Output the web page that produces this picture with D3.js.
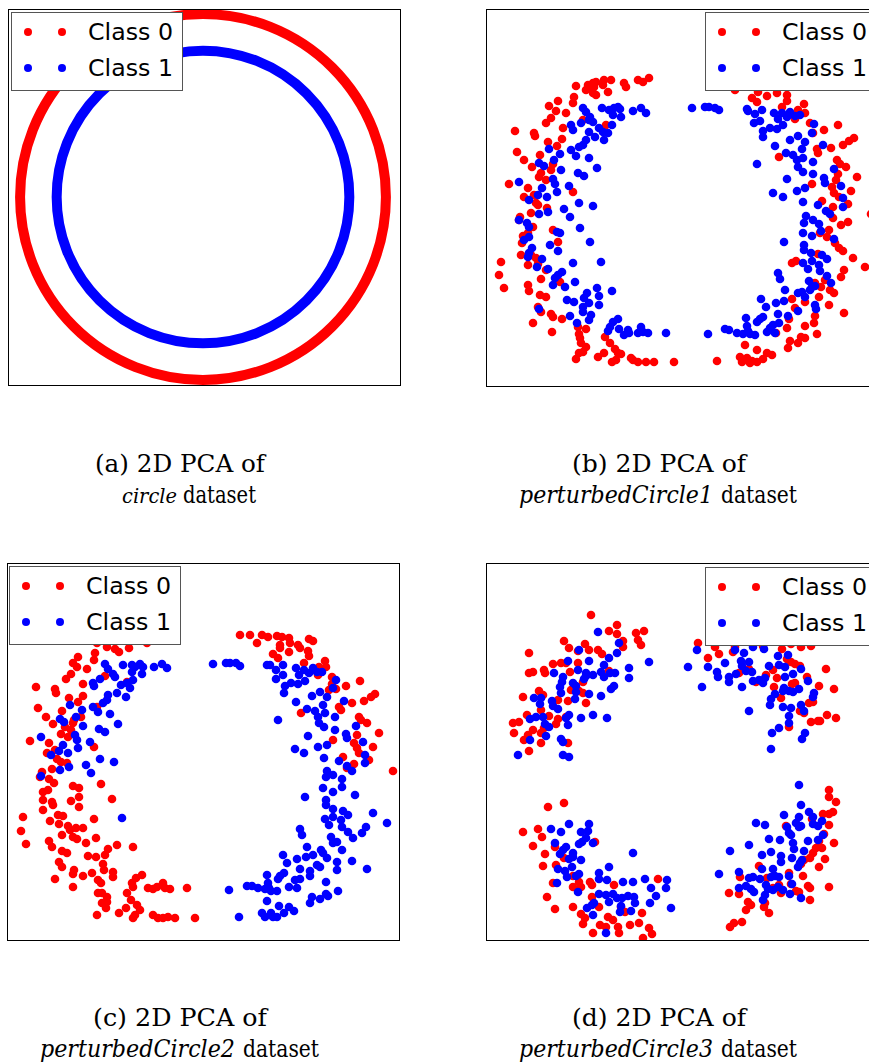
<!DOCTYPE html>
<html><head><meta charset="utf-8">
<script src="https://cdn.jsdelivr.net/npm/d3@7"></script>
<style>body{margin:0;background:#fff}</style>
</head><body><svg id="chart" width="869" height="1062"></svg>
<script>
// ---------------- DATA ----------------
const classLabels = ["Class 0", "Class 1"];
const classColors = ["#ff0000", "#0000ff"];
const captionHeads = ["(a) 2D PCA of", "(b) 2D PCA of", "(c) 2D PCA of", "(d) 2D PCA of"];
const datasetNames = ["circle", "perturbedCircle1", "perturbedCircle2", "perturbedCircle3"];
const captionTail = "dataset";

// (a) circle dataset: two concentric rings (radius per class), PCA units
const circleRadii = [1.0, 0.8];
const circleXDomain = [-1.066, 1.077];
const circleYDomain = [-1.027, 1.027];

// (b)-(d): PCA projections (units; y grows downward)
const pcXDomain = [0, 392];
const pcYDomain = [0, 377];

const b0 = [[90,77],[102,76],[107,74],[110,73],[118,71],[125,71],[117,76],[100,81],[107,84],[110,86],[122,83],[138,74],[140,78],[152,71],[157,73],[163,69],[103,79],[108,78],[88,88],[87,94],[72,92],[63,97],[70,102],[80,104],[65,109],[60,114],[77,119],[97,111],[120,116],[29,122],[48,124],[49,127],[62,133],[76,130],[71,137],[54,146],[31,143],[38,151],[46,158],[67,155],[65,161],[53,168],[55,164],[60,171],[23,175],[42,179],[38,188],[48,186],[50,194],[52,196],[87,183],[45,204],[61,199],[34,208],[33,211],[47,218],[37,227],[36,234],[42,224],[67,221],[72,233],[35,246],[45,246],[50,249],[15,253],[13,266],[18,279],[42,256],[55,270],[60,261],[52,255],[42,276],[43,282],[54,286],[60,288],[74,273],[52,298],[55,303],[65,305],[67,308],[76,310],[47,314],[66,323],[92,318],[93,325],[100,320],[94,329],[95,334],[100,338],[97,343],[93,344],[90,350],[112,348],[118,344],[124,334],[119,328],[129,340],[132,344],[135,345],[126,353],[130,351],[147,351],[152,353],[160,353],[168,353],[188,353],[145,349],
[249,81],[272,83],[291,84],[301,86],[281,87],[266,89],[271,93],[301,92],[296,98],[318,95],[312,101],[319,104],[309,110],[324,114],[327,124],[338,121],[352,116],[331,140],[332,144],[345,139],[357,136],[363,132],[368,129],[293,148],[351,151],[354,155],[360,158],[352,165],[371,168],[350,171],[346,178],[326,175],[348,184],[353,188],[365,182],[362,195],[336,192],[347,198],[347,209],[355,216],[362,213],[385,205],[334,224],[341,228],[343,221],[349,234],[353,239],[357,242],[367,249],[379,258],[306,254],[310,252],[332,245],[358,261],[355,268],[339,271],[329,274],[335,278],[344,281],[348,284],[333,288],[306,290],[319,293],[343,296],[309,299],[358,304],[329,307],[303,310],[328,314],[319,317],[301,319],[290,324],[331,325],[315,328],[319,329],[304,332],[312,334],[302,339],[259,336],[271,341],[281,344],[286,346],[254,348],[261,349],[266,352],[271,353],[277,350],[231,352],[256,353],[264,354]];

const b1 = [[97,99],[100,103],[104,108],[107,113],[103,111],[116,99],[123,101],[128,99],[132,98],[134,100],[135,108],[127,106],[147,102],[155,99],[160,104],[126,116],[113,119],[117,123],[122,124],[118,131],[109,128],[103,123],[100,131],[97,136],[93,138],[85,116],[87,121],[95,114],[85,141],[90,147],[103,149],[111,159],[63,140],[74,145],[68,151],[53,154],[58,157],[75,161],[92,164],[98,167],[67,170],[69,175],[83,177],[56,179],[52,186],[61,188],[71,183],[43,191],[33,173],[93,194],[107,197],[78,200],[84,208],[62,203],[53,205],[33,211],[41,214],[43,218],[43,228],[38,231],[94,219],[71,223],[74,224],[104,233],[64,236],[72,242],[46,239],[43,244],[42,248],[56,250],[51,258],[62,260],[87,254],[115,253],[76,263],[72,266],[69,269],[67,276],[79,278],[89,273],[111,279],[126,282],[101,284],[98,289],[113,287],[81,291],[88,293],[97,298],[103,294],[113,296],[97,303],[105,306],[84,307],[91,314],[103,311],[53,300],[127,313],[132,310],[124,318],[122,322],[133,320],[142,321],[138,326],[143,324],[155,318],[157,323],[162,324],[152,324],[180,324],
[206,99],[219,98],[223,98],[229,99],[233,101],[261,100],[262,102],[269,105],[276,101],[274,112],[268,114],[277,122],[277,128],[284,119],[291,120],[297,116],[288,104],[292,110],[296,104],[301,108],[304,103],[309,107],[314,106],[289,137],[304,131],[312,127],[319,133],[328,115],[326,124],[300,144],[307,146],[316,140],[317,149],[311,151],[312,158],[317,163],[327,153],[337,136],[271,155],[301,170],[327,165],[338,169],[339,174],[348,160],[355,177],[287,184],[297,188],[311,182],[319,179],[317,193],[332,196],[340,202],[344,205],[357,189],[357,198],[320,207],[318,214],[317,224],[327,211],[333,215],[335,222],[326,227],[348,230],[298,233],[318,236],[318,241],[325,244],[336,246],[341,250],[317,254],[322,260],[326,252],[333,256],[334,262],[341,267],[345,274],[292,264],[294,270],[323,272],[326,278],[329,277],[324,281],[299,281],[312,284],[316,283],[319,288],[275,290],[280,298],[290,294],[298,292],[329,296],[330,300],[312,302],[292,305],[302,307],[260,309],[274,310],[277,308],[271,313],[287,316],[293,314],[284,319],[281,323],[289,324],[261,317],[262,322],[239,320],[243,321],[251,324],[257,325],[264,325],[269,326],[222,325]];

const c0 = [[90,80],[100,84],[108,86],[112,89],[122,85],[140,80],[88,90],[87,97],[71,94],[66,100],[70,104],[80,106],[64,111],[59,116],[76,121],[98,113],[120,119],[29,124],[48,126],[49,130],[62,135],[76,133],[71,139],[31,145],[55,148],[39,154],[46,161],[67,157],[66,160],[58,164],[54,171],[74,154],[90,144],[23,178],[42,180],[64,167],[61,174],[40,190],[48,187],[50,196],[54,199],[87,184],[45,206],[35,209],[60,200],[33,214],[42,216],[47,220],[94,221],[66,223],[72,225],[36,229],[41,227],[36,237],[45,239],[64,238],[72,234],[105,236],[46,242],[36,247],[72,244],[16,254],[43,258],[51,252],[56,253],[87,256],[14,268],[52,261],[61,263],[63,267],[69,265],[76,265],[55,272],[66,274],[70,276],[79,280],[89,275],[19,281],[42,278],[45,284],[55,288],[60,290],[81,293],[89,294],[98,292],[101,286],[110,282],[126,284],[52,299],[55,304],[67,307],[66,311],[76,313],[85,310],[96,301],[97,307],[106,309],[106,314],[48,316],[66,324],[91,317],[94,320],[91,330],[95,330],[100,334],[100,339],[95,340],[99,345],[90,352],[112,350],[120,330],[125,320],[129,315],[135,312],[126,324],[124,337],[130,342],[119,345],[133,347],[128,352],[126,355],[141,325],[146,326],[150,324],[156,320],[158,325],[163,326],[180,325],[146,352],[151,355],[156,355],[161,354],[168,355],[188,355],
[233,72],[243,72],[250,80],[255,72],[261,74],[270,73],[275,74],[273,82],[273,85],[282,75],[283,80],[291,82],[293,85],[302,76],[306,78],[282,89],[301,88],[302,93],[266,91],[271,95],[297,100],[318,98],[319,104],[312,104],[311,112],[325,114],[325,121],[329,126],[322,127],[339,123],[353,118],[345,140],[332,144],[334,147],[357,138],[364,134],[368,131],[294,150],[352,154],[354,157],[360,160],[372,170],[350,172],[326,177],[347,180],[350,185],[366,184],[352,190],[362,197],[336,194],[347,201],[340,205],[386,208]];

const c1 = [[98,101],[101,106],[106,111],[108,114],[116,102],[125,102],[128,104],[133,101],[136,104],[125,109],[135,111],[147,104],[155,101],[160,105],[126,117],[120,120],[114,122],[123,125],[119,134],[110,130],[101,132],[100,137],[96,140],[86,120],[87,123],[93,116],[91,149],[86,144],[103,151],[111,161],[75,147],[69,154],[63,142],[53,156],[57,159],[76,163],[92,166],[98,169],[68,172],[70,177],[83,179],[56,182],[52,188],[61,190],[71,185],[34,174],[44,192],[93,196],[107,199],[79,202],[62,204],[53,207],[84,210],[34,213],[115,255],
[206,101],[219,100],[223,100],[229,100],[233,103],[260,102],[263,102],[269,107],[276,102],[276,112],[269,116],[278,123],[277,130],[284,120],[291,121],[298,118],[289,105],[292,112],[297,107],[302,110],[306,105],[310,109],[315,109],[289,139],[305,133],[313,129],[320,134],[329,117],[326,125],[337,138],[300,146],[308,148],[316,142],[318,150],[311,154],[312,160],[317,164],[328,154],[271,157],[301,173],[328,167],[339,171],[340,175],[349,163],[356,179],[288,186],[297,190],[311,184],[320,182],[317,195],[332,198],[340,203],[345,208],[358,192],[358,200],[320,208],[319,214],[316,225],[326,212],[335,216],[335,224],[326,229],[348,232],[298,234],[319,237],[319,242],[326,246],[336,248],[341,252],[318,256],[322,262],[326,254],[334,257],[335,264],[341,269],[346,275],[355,270],[366,250],[380,260],[359,264],[293,266],[295,272],[324,274],[326,280],[330,279],[335,287],[300,284],[314,287],[316,290],[320,295],[276,292],[280,300],[290,296],[299,294],[306,292],[310,302],[313,304],[330,299],[330,307],[345,298],[360,306],[293,306],[303,308],[260,312],[273,313],[277,310],[271,316],[288,317],[293,316],[282,324],[290,325],[303,313],[319,319],[261,320],[262,325],[240,323],[245,323],[251,325],[258,326],[264,328],[270,328],[222,327],[331,328],[305,334],[303,340],[313,336],[319,331],[321,333],[260,338],[272,343],[282,344],[287,348],[255,350],[258,354],[264,350],[266,354],[270,354],[277,350],[232,354]];

const d0 = [[105,52],[131,62],[123,68],[131,71],[150,70],[158,68],[152,77],[155,82],[137,78],[137,84],[78,78],[83,85],[92,88],[99,81],[103,87],[112,87],[116,91],[43,90],[67,101],[75,100],[80,100],[92,100],[43,110],[47,109],[58,107],[59,110],[84,109],[97,119],[123,108],[53,128],[57,132],[37,134],[85,127],[93,128],[97,130],[82,138],[100,140],[72,137],[55,147],[41,152],[63,153],[72,156],[70,161],[80,154],[27,160],[33,159],[28,170],[47,167],[55,170],[58,165],[42,172],[38,177],[55,180],[43,188],[82,180],
[212,80],[229,84],[233,91],[222,95],[247,89],[249,84],[277,83],[296,86],[305,81],[315,84],[325,83],[301,96],[305,99],[309,101],[314,103],[253,110],[263,106],[270,119],[280,112],[287,107],[291,115],[321,114],[340,106],[288,124],[306,121],[309,120],[333,123],[348,126],[295,135],[323,140],[327,139],[314,148],[318,150],[325,159],[332,158],[334,158],[341,152],[350,155],[303,164],
[62,244],[78,240],[37,269],[52,266],[56,274],[47,283],[59,291],[57,303],[69,284],[70,302],[78,295],[109,279],[87,313],[93,319],[87,324],[95,324],[104,319],[106,322],[67,320],[61,334],[69,346],[87,344],[106,334],[113,344],[128,322],[95,351],[99,355],[97,361],[114,362],[122,354],[127,357],[120,364],[132,364],[133,370],[107,370],[139,349],[144,362],[153,360],[156,350],[163,365],[166,371],[157,375],[172,316],[135,344],
[343,227],[343,234],[350,239],[347,249],[343,251],[337,251],[326,256],[343,262],[338,271],[333,278],[348,280],[336,285],[330,285],[327,290],[324,295],[318,297],[339,296],[333,304],[315,301],[300,263],[273,303],[254,314],[303,310],[317,313],[281,315],[293,322],[287,325],[295,330],[305,321],[310,328],[322,323],[324,325],[313,329],[343,324],[324,337],[243,330],[253,331],[262,339],[265,342],[260,347],[279,340],[278,344],[283,350],[256,359],[248,360],[244,364]];

const d1 = [[112,69],[133,80],[131,90],[123,95],[118,102],[93,87],[103,98],[82,98],[68,110],[92,107],[100,110],[107,112],[115,109],[118,114],[124,110],[129,110],[143,105],[143,115],[163,99],[77,114],[76,119],[74,124],[75,130],[87,120],[90,123],[98,116],[100,113],[90,129],[103,131],[89,136],[128,123],[125,126],[115,133],[48,135],[55,135],[54,141],[66,138],[67,143],[72,146],[50,154],[44,156],[57,154],[59,161],[63,164],[83,152],[80,155],[82,162],[95,155],[107,152],[121,155],[60,173],[44,177],[75,176],[77,179],[32,192],[77,192],[83,194],
[211,87],[202,104],[222,104],[239,100],[231,109],[232,114],[243,114],[243,119],[250,111],[249,87],[258,90],[267,84],[278,86],[255,98],[256,103],[263,99],[260,108],[266,109],[267,118],[273,117],[277,120],[279,115],[292,93],[302,92],[283,103],[293,102],[299,104],[307,111],[315,106],[299,114],[322,118],[216,124],[256,124],[298,125],[297,128],[303,128],[307,129],[313,126],[289,131],[285,136],[284,142],[297,144],[305,145],[315,142],[318,148],[327,134],[328,130],[263,148],[303,153],[303,160],[293,165],[286,170],[319,170],[316,176],[285,186],
[83,261],[103,261],[65,266],[75,269],[95,269],[102,268],[100,275],[107,280],[93,281],[96,279],[69,280],[80,284],[77,287],[74,291],[87,290],[83,296],[87,294],[95,297],[86,304],[72,306],[79,308],[81,314],[90,313],[93,311],[71,320],[92,329],[113,310],[113,316],[121,317],[123,304],[137,319],[147,319],[147,290],[159,316],[165,325],[170,333],[181,317],[180,325],[113,331],[120,332],[127,331],[123,339],[131,335],[136,335],[142,333],[148,334],[149,340],[135,343],[134,349],[145,348],[164,340],[185,345],[101,345],[106,342],[107,352],[120,370],[108,340],
[313,222],[315,242],[298,252],[313,254],[323,249],[327,254],[336,258],[327,261],[332,263],[310,260],[315,263],[313,264],[270,260],[279,262],[301,264],[303,270],[305,272],[337,272],[332,277],[322,278],[283,276],[294,277],[307,280],[308,286],[263,282],[244,288],[285,289],[276,292],[295,293],[295,299],[306,295],[318,288],[316,297],[314,300],[312,304],[233,311],[253,309],[276,306],[287,306],[263,315],[267,314],[274,316],[285,314],[289,313],[293,314],[303,313],[306,321],[260,323],[253,325],[265,326],[268,329],[280,322],[282,326],[287,327],[292,324],[297,327],[304,331],[315,335],[279,332],[277,337]];

const scatterSeries = { b: [b0, b1], c: [c0, c1], d: [d0, d1] };

// ---------------- LAYOUT ----------------
// cap: line1 [x, width], name [x, width, fontSize], tail [x, width], baselines [y1, y2]
const panels = [
  { key: "a", left: 8,   top: 9,   w: 392, h: 376, legend: [11, 12],
    cap: { l1: [95, 170], nm: [122, 55, 21], tl: [183, 73], y: [472, 503] } },
  { key: "b", left: 486, top: 9,   w: 392, h: 377, legend: [705, 12],
    cap: { l1: [572, 174], nm: [519, 194, 23.5], tl: [721, 76], y: [472, 503] } },
  { key: "c", left: 7,   top: 563, w: 392, h: 377, legend: [9, 566],
    cap: { l1: [93, 174], nm: [40, 195, 23.5], tl: [243, 76], y: [1026, 1057] } },
  { key: "d", left: 486, top: 563, w: 392, h: 377, legend: [705, 567],
    cap: { l1: [572, 174], nm: [519, 194, 23.5], tl: [721, 76], y: [1026, 1057] } }
];
const dotR = 4.3;

const svg = d3.select("#chart");
svg.append("rect").attr("width", 869).attr("height", 1062).attr("fill", "#fff");
const defs = svg.append("defs");

function capText(x, y, w, txt, italic, size) {
  svg.append("text").attr("x", x).attr("y", y)
    .attr("textLength", w).attr("lengthAdjust", "spacingAndGlyphs")
    .attr("font-family", "DejaVu Serif").attr("font-size", size || 23.5)
    .attr("font-style", italic ? "italic" : "normal")
    .attr("fill", "#000").text(txt);
}

panels.forEach((p, i) => {
  defs.append("clipPath").attr("id", "clip-" + p.key)
    .append("rect").attr("x", p.left).attr("y", p.top).attr("width", p.w).attr("height", p.h);

  const g = svg.append("g");
  const plot = g.append("g").attr("clip-path", `url(#clip-${p.key})`);

  if (p.key === "a") {
    const x = d3.scaleLinear().domain(circleXDomain).range([p.left, p.left + p.w]);
    const y = d3.scaleLinear().domain(circleYDomain).range([p.top + p.h, p.top]);
    plot.selectAll("circle.ring").data(circleRadii).join("circle")
      .attr("class", "ring")
      .attr("cx", x(0)).attr("cy", y(0))
      .attr("r", r => x(r) - x(0))
      .attr("fill", "none")
      .attr("stroke", (r, k) => classColors[k])
      .attr("stroke-width", 10);
  } else {
    const x = d3.scaleLinear().domain(pcXDomain).range([p.left, p.left + p.w]);
    const y = d3.scaleLinear().domain(pcYDomain).range([p.top, p.top + p.h]);
    scatterSeries[p.key].forEach((pts, k) => {
      plot.append("g").selectAll("circle").data(pts).join("circle")
        .attr("cx", d => x(d[0])).attr("cy", d => y(d[1]))
        .attr("r", dotR).attr("fill", classColors[k]);
    });
  }

  // legend
  const [lx, ly] = p.legend;
  const lg = g.append("g").attr("transform", `translate(${lx},${ly})`);
  lg.append("rect").attr("x", 0.5).attr("y", 0.5).attr("width", 171).attr("height", 78)
    .attr("fill", "#fff").attr("stroke", "#555").attr("stroke-width", 1);
  classLabels.forEach((lab, k) => {
    const cy = 20 + k * 36;
    [17, 51].forEach(mx => lg.append("circle").attr("cx", mx).attr("cy", cy).attr("r", 4).attr("fill", classColors[k]));
    lg.append("text").attr("x", 77).attr("y", cy + 8)
      .attr("font-family", "DejaVu Sans").attr("font-size", 23)
      .attr("textLength", 85).attr("lengthAdjust", "spacingAndGlyphs")
      .attr("fill", "#000").text(lab);
  });

  // frame
  g.append("rect").attr("x", p.left + 0.5).attr("y", p.top + 0.5).attr("width", p.w).attr("height", p.h)
    .attr("fill", "none").attr("stroke", "#000").attr("stroke-width", 1);

  // caption
  const c = p.cap;
  capText(c.l1[0], c.y[0], c.l1[1], captionHeads[i], false);
  capText(c.nm[0], c.y[1], c.nm[1], datasetNames[i], true, c.nm[2]);
  capText(c.tl[0], c.y[1], c.tl[1], captionTail, false);
});
</script></body></html>
